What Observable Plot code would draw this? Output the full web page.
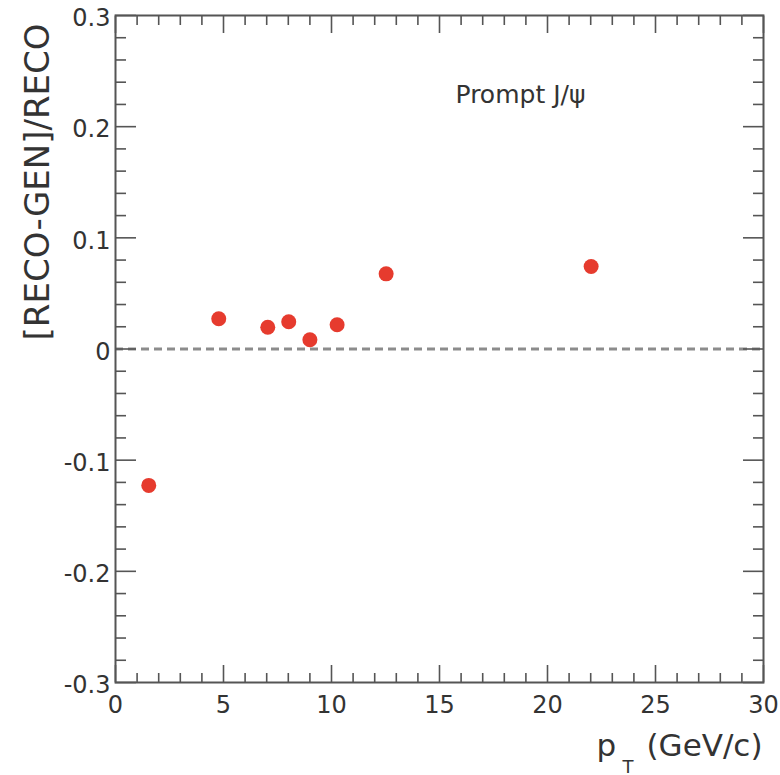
<!DOCTYPE html>
<html><head><meta charset="utf-8">
<script src="https://cdn.jsdelivr.net/npm/d3@7"></script>
<script src="https://cdn.jsdelivr.net/npm/@observablehq/plot@0.6"></script>
<style>body{margin:0;background:#fff}</style>
</head><body><div id="chart"></div>
<script>
const pt = [1.54, 4.78, 7.05, 8.02, 9.0, 10.26, 12.53, 22.02];
const ratio = [-0.1227, 0.0272, 0.0196, 0.0245, 0.0083, 0.0218, 0.0676, 0.0742];
const xMajorTicks = [0, 5, 10, 15, 20, 25, 30];
const xMinorTicks = [1, 2, 3, 4, 6, 7, 8, 9, 11, 12, 13, 14, 16, 17, 18, 19, 21, 22, 23, 24, 26, 27, 28, 29];
const yMajorTicks = [-0.3, -0.2, -0.1, 0, 0.1, 0.2, 0.3];
const yMinorTicks = [-0.28, -0.26, -0.24, -0.22, -0.18, -0.16, -0.14, -0.12, -0.08, -0.06, -0.04, -0.02,
                     0.02, 0.04, 0.06, 0.08, 0.12, 0.14, 0.16, 0.18, 0.22, 0.24, 0.26, 0.28];
const yTitle = "[RECO-GEN]/RECO";
const xTitleMain = "p";
const xTitleSub = "T";
const xTitleUnit = "(GeV/c)";
const annotation = "Prompt J/\u03c8";

const points = pt.map((x, i) => ({pt: x, ratio: ratio[i]}));

const axisColor = "#555";
const textColor = "#333";
const fmt = d => String(d);
const tickStyle = {fill: "none", stroke: axisColor, strokeWidth: 1.6, label: null};

const chart = Plot.plot({
  width: 780, height: 775,
  marginLeft: 115, marginRight: 17, marginTop: 15, marginBottom: 93,
  style: {fontFamily: "DejaVu Sans", background: "#fff", color: textColor},
  x: {domain: [0, 30], label: null},
  y: {domain: [-0.3, 0.3], label: null},
  marks: [
    Plot.ruleY([0], {stroke: "#8c8c8c", strokeWidth: 3, strokeDasharray: "8,5"}),
    Plot.axisX(xMajorTicks, {anchor: "bottom", tickSize: -17, ...tickStyle}),
    Plot.axisX(xMinorTicks, {anchor: "bottom", tickSize: -9, ...tickStyle}),
    Plot.axisX(xMajorTicks, {anchor: "top", tickSize: -17, ...tickStyle}),
    Plot.axisX(xMinorTicks, {anchor: "top", tickSize: -9, ...tickStyle}),
    Plot.axisY(yMajorTicks, {anchor: "left", tickSize: -21, ...tickStyle}),
    Plot.axisY(yMinorTicks, {anchor: "left", tickSize: -11, ...tickStyle}),
    Plot.axisY(yMajorTicks, {anchor: "right", tickSize: -21, ...tickStyle}),
    Plot.axisY(yMinorTicks, {anchor: "right", tickSize: -11, ...tickStyle}),
    Plot.axisX(xMajorTicks, {anchor: "bottom", tickSize: 0, tickPadding: 13, fontSize: 24, fill: textColor, label: null, tickFormat: fmt}),
    Plot.axisY(yMajorTicks, {anchor: "left", tickSize: 0, tickPadding: 5, fontSize: 24, dy: 3, fill: textColor, label: null, tickFormat: fmt}),
    Plot.frame({stroke: axisColor, strokeWidth: 2}),
    Plot.dot(points, {x: "pt", y: "ratio", r: 7.5, fill: "#e63b2e", stroke: "none"}),
    Plot.text([annotation], {frameAnchor: "top-left", dx: 340, dy: 87, textAnchor: "start", lineAnchor: "bottom", fontSize: 25, fill: textColor}),
    Plot.text([yTitle], {frameAnchor: "top-left", rotate: -90, textAnchor: "end", lineAnchor: "middle", dx: -77.5, dy: 8, fontSize: 34, fill: textColor}),
    Plot.text([xTitleUnit], {frameAnchor: "bottom-right", dx: -1, dy: 73, textAnchor: "end", lineAnchor: "bottom", fontSize: 31, fill: textColor}),
    Plot.text([xTitleMain], {frameAnchor: "bottom-right", dx: -167, dy: 73, textAnchor: "start", lineAnchor: "bottom", fontSize: 31, fill: textColor}),
    Plot.text([xTitleSub], {frameAnchor: "bottom-right", dx: -141, dy: 90, textAnchor: "start", lineAnchor: "bottom", fontSize: 18, fill: textColor})
  ]
});
document.getElementById("chart").appendChild(chart);
</script>
</body></html>
